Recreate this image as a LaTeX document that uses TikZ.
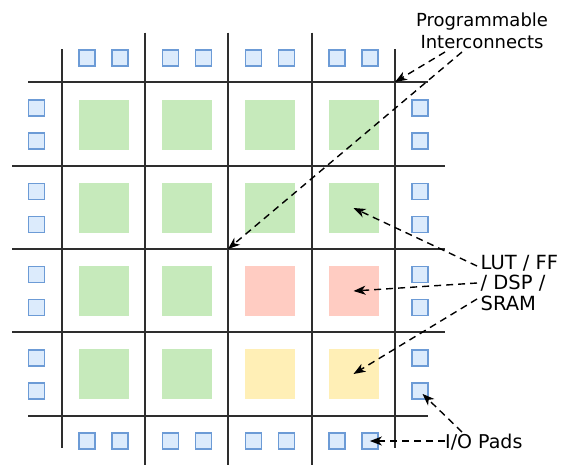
\documentclass[tikz,border=0pt]{standalone}
\usepackage{fontspec}
\setmainfont{DejaVu Sans}
\usetikzlibrary{arrows.meta,calc}
\definecolor{gridc}{HTML}{2E2E2E}
\definecolor{padfill}{HTML}{DCEBFC}
\definecolor{padline}{HTML}{6C9BD6}
\definecolor{lutgreen}{HTML}{C6EABB}
\definecolor{dsppink}{HTML}{FFCCC2}
\definecolor{sramyel}{HTML}{FFEFB6}
\begin{document}
\begin{tikzpicture}[x=1pt,y=-1pt,
  gridline/.style={draw=gridc,line width=1.8pt},
  blk/.style={minimum size=50pt,inner sep=0pt,draw=none,fill=#1},
  pad/.style={minimum size=16pt,inner sep=0pt,fill=padfill,draw=padline,line width=1.4pt},
  lbl/.style={inner sep=0pt},
  callout/.style={draw=black,line width=1.4pt,dash pattern=on 7pt off 5pt,
    -{Stealth[length=12pt,width=9pt,inset=3.5pt]}}
]
\useasboundingbox[fill=white] (0,0) rectangle (564,464);
% grid (interconnect) lines
\draw[gridline] (62,49) -- (62,448);
\draw[gridline] (145,32.5) -- (145,466);
\draw[gridline] (228,32.5) -- (228,466);
\draw[gridline] (312,32.5) -- (312,466);
\draw[gridline] (395,49) -- (395,448);
\draw[gridline] (28,82) -- (428,82);
\draw[gridline] (12,166) -- (445,166);
\draw[gridline] (12,249) -- (445,249);
\draw[gridline] (12,332) -- (445,332);
\draw[gridline] (28,416) -- (428,416);
\coordinate (corner) at (395,82);
\coordinate (cross) at (228,249);
% logic blocks
\node[blk=lutgreen] (b11) at (103.5,125) {};
\node[blk=lutgreen] (b12) at (187,125) {};
\node[blk=lutgreen] (b13) at (270,125) {};
\node[blk=lutgreen] (b14) at (353.5,125) {};
\node[blk=lutgreen] (b21) at (103.5,208) {};
\node[blk=lutgreen] (b22) at (187,208) {};
\node[blk=lutgreen] (b23) at (270,208) {};
\node[blk=lutgreen] (b24) at (353.5,208) {};
\node[blk=lutgreen] (b31) at (103.5,291) {};
\node[blk=lutgreen] (b32) at (187,291) {};
\node[blk=dsppink] (b33) at (270,291) {};
\node[blk=dsppink] (b34) at (353.5,291) {};
\node[blk=lutgreen] (b41) at (103.5,374) {};
\node[blk=lutgreen] (b42) at (187,374) {};
\node[blk=sramyel] (b43) at (270,374) {};
\node[blk=sramyel] (b44) at (353.5,374) {};
% I/O pads
\foreach \j [count=\k from 0] in {1,3,5,7} {
  \pgfmathsetmacro\pa{87+83.3*\k}
  \pgfmathsetmacro\pb{120+83.3*\k}
  \pgfmathtruncatemacro\jj{\j+1}
  \node[pad] (pt\j) at (\pa,58) {};
  \node[pad] (pt\jj) at (\pb,58) {};
  \node[pad] (pb\j) at (\pa,441) {};
  \node[pad] (pb\jj) at (\pb,441) {};
  \pgfmathsetmacro\qa{108+83.3*\k}
  \pgfmathsetmacro\qb{141+83.3*\k}
  \node[pad] (pl\j) at (36.7,\qa) {};
  \node[pad] (pl\jj) at (36.7,\qb) {};
  \node[pad] (pr\j) at (420,\qa) {};
  \node[pad] (pr\jj) at (420,\qb) {};
}
% labels
\node[lbl,align=center,font=\fontsize{18}{22}\selectfont] (prog) at (482,30.5) {Programmable\\Interconnects};
\node[lbl,align=left,anchor=west,font=\fontsize{19.5}{20.5}\selectfont] (lut) at (480.5,283) {LUT / FF\\/ DSP /\\SRAM};
\node[lbl,anchor=west,font=\fontsize{19}{22}\selectfont] (io) at (445,442) {I/O Pads};
% callout start points
\coordinate (s1) at (445,52);
\coordinate (s2) at (462,52);
\coordinate (s3) at (477,266);
\coordinate (s4) at (477,283);
\coordinate (s5) at (477,299);
\coordinate (s6) at (462,432);
\coordinate (s7) at (445,441);
\draw[callout] (s1) -- (corner);
\draw[callout] (s2) -- (cross);
\draw[callout] (s3) -- (b24.center);
\draw[callout] (s4) -- (b34.center);
\draw[callout] (s5) -- (b44.center);
\draw[callout] (s6) -- ($(pr8.center)+(2.5,3)$);
\draw[callout] (s7) -- (pb8.center);
\end{tikzpicture}
\end{document}
